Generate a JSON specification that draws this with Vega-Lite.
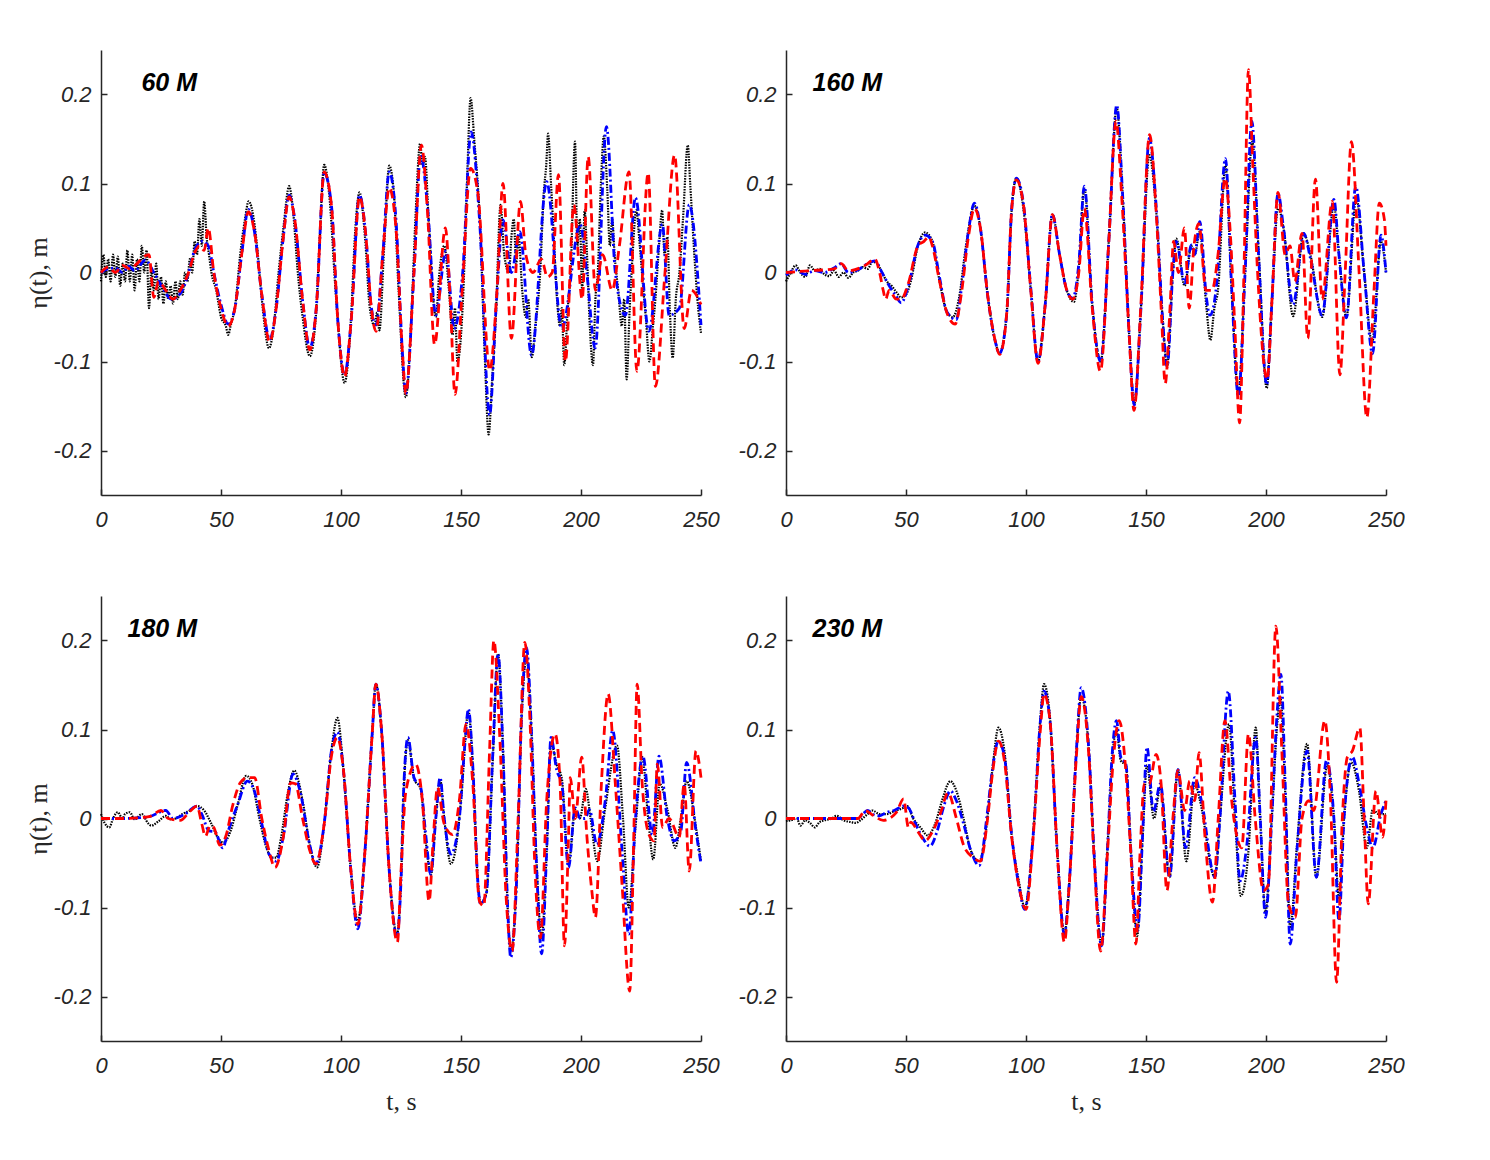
{
  "$schema": "https://vega.github.io/schema/vega-lite/v6.json",
  "background": "#ffffff",
  "padding": {"left": 25, "top": 50, "right": 0, "bottom": 0},
  "datasets": {
    "k1": [{"t":0,"v":-0.01},{"t":1,"v":0.02},{"t":2,"v":-0.005},{"t":3,"v":0.015},{"t":4,"v":-0.01},{"t":5,"v":0.02},{"t":6,"v":-0.005},{"t":7,"v":0.018},{"t":8,"v":-0.015},{"t":9,"v":0.01},{"t":10,"v":-0.01},{"t":11,"v":0.025},{"t":12,"v":-0.01},{"t":13,"v":0.02},{"t":14,"v":-0.02},{"t":15,"v":0.015},{"t":16,"v":-0.01},{"t":17,"v":0.03},{"t":18,"v":0},{"t":19,"v":0.025},{"t":20,"v":-0.04},{"t":21,"v":0.005},{"t":22,"v":-0.02},{"t":23,"v":0.01},{"t":24,"v":-0.03},{"t":25,"v":-0.005},{"t":26,"v":-0.035},{"t":27,"v":-0.01},{"t":28,"v":-0.03},{"t":29,"v":-0.015},{"t":30,"v":-0.035},{"t":31,"v":-0.01},{"t":32,"v":-0.03},{"t":33,"v":-0.01},{"t":34,"v":-0.025},{"t":35,"v":0},{"t":36,"v":-0.01},{"t":37,"v":0.015},{"t":38,"v":0},{"t":39,"v":0.035},{"t":40,"v":0.02},{"t":41,"v":0.06},{"t":42,"v":0.03},{"t":43,"v":0.08},{"t":44,"v":0.04},{"t":45,"v":0.02},{"t":46,"v":0},{"t":48,"v":-0.02},{"t":50,"v":-0.05},{"t":52,"v":-0.06},{"t":53,"v":-0.07},{"t":54,"v":-0.06},{"t":56,"v":-0.035},{"t":58,"v":0.02},{"t":60,"v":0.06},{"t":61.5,"v":0.08},{"t":63,"v":0.07},{"t":65,"v":0.03},{"t":67,"v":-0.03},{"t":70,"v":-0.085},{"t":72,"v":-0.06},{"t":74,"v":0},{"t":76,"v":0.05},{"t":78.4,"v":0.097},{"t":80,"v":0.07},{"t":82,"v":0},{"t":84,"v":-0.05},{"t":87,"v":-0.094},{"t":89.5,"v":-0.05},{"t":91,"v":0.03},{"t":93,"v":0.121},{"t":95,"v":0.09},{"t":98,"v":-0.03},{"t":101.5,"v":-0.124},{"t":104,"v":-0.06},{"t":106,"v":0.05},{"t":107.7,"v":0.09},{"t":110,"v":0.04},{"t":112,"v":-0.04},{"t":114,"v":-0.06},{"t":115,"v":-0.045},{"t":116,"v":-0.065},{"t":118,"v":0.03},{"t":120.1,"v":0.12},{"t":122,"v":0.09},{"t":124,"v":-0.02},{"t":127,"v":-0.14},{"t":129.5,"v":-0.04},{"t":131,"v":0.06},{"t":133,"v":0.145},{"t":134,"v":0.12},{"t":135,"v":0.13},{"t":136.5,"v":0.06},{"t":139.5,"v":-0.05},{"t":141,"v":0},{"t":143,"v":0.03},{"t":145,"v":-0.02},{"t":146.5,"v":-0.07},{"t":147.5,"v":-0.04},{"t":148.5,"v":-0.1},{"t":151,"v":-0.02},{"t":152.5,"v":0.1},{"t":154,"v":0.196},{"t":155.5,"v":0.15},{"t":158,"v":0.05},{"t":160,"v":-0.1},{"t":161.5,"v":-0.182},{"t":163,"v":-0.12},{"t":164.5,"v":-0.05},{"t":166.5,"v":0.076},{"t":168,"v":0.02},{"t":170,"v":0},{"t":171,"v":0.04},{"t":172,"v":0.06},{"t":173,"v":0.01},{"t":174,"v":0.04},{"t":175.5,"v":-0.02},{"t":177,"v":-0.05},{"t":178,"v":-0.03},{"t":179.5,"v":-0.095},{"t":181,"v":-0.06},{"t":183,"v":0},{"t":184.5,"v":0.09},{"t":185.5,"v":0.12},{"t":186.3,"v":0.156},{"t":187.5,"v":0.1},{"t":188.5,"v":0.05},{"t":190,"v":-0.03},{"t":191.2,"v":-0.06},{"t":192,"v":-0.04},{"t":193,"v":-0.104},{"t":194.5,"v":-0.04},{"t":195.7,"v":0},{"t":197.5,"v":0.147},{"t":198.5,"v":0.03},{"t":199.5,"v":0.06},{"t":200.5,"v":-0.02},{"t":201.5,"v":0.07},{"t":202.5,"v":0.02},{"t":203.5,"v":-0.05},{"t":205,"v":-0.104},{"t":206,"v":-0.03},{"t":207,"v":0},{"t":208.3,"v":0.1},{"t":209.5,"v":0.153},{"t":211,"v":0.09},{"t":212,"v":0.03},{"t":213,"v":0.06},{"t":214,"v":0.02},{"t":215.5,"v":-0.02},{"t":217,"v":-0.06},{"t":218,"v":-0.03},{"t":219,"v":-0.12},{"t":220.3,"v":-0.04},{"t":221.5,"v":0.02},{"t":223,"v":0.07},{"t":224.5,"v":0.03},{"t":226,"v":-0.02},{"t":227,"v":-0.05},{"t":228.5,"v":-0.1},{"t":230,"v":-0.06},{"t":231,"v":-0.03},{"t":232.5,"v":0.03},{"t":233.8,"v":0.07},{"t":234.8,"v":0.02},{"t":236,"v":0.04},{"t":237,"v":-0.04},{"t":238.2,"v":-0.096},{"t":239.5,"v":-0.03},{"t":241,"v":0},{"t":242.5,"v":0.06},{"t":244.5,"v":0.143},{"t":245.5,"v":0.1},{"t":247,"v":0.03},{"t":248.5,"v":-0.03},{"t":250,"v":-0.068}],
    "b1": [{"t":0,"v":0},{"t":3,"v":0.004},{"t":6,"v":0.005},{"t":9,"v":0},{"t":11.5,"v":0.007},{"t":14,"v":0.002},{"t":18.5,"v":0.014},{"t":22,"v":0},{"t":25,"v":-0.014},{"t":29.5,"v":-0.03},{"t":33.7,"v":-0.021},{"t":36.5,"v":0},{"t":39,"v":0.025},{"t":42,"v":0.035},{"t":44.7,"v":0.03},{"t":47,"v":0},{"t":50,"v":-0.036},{"t":53,"v":-0.058},{"t":55.8,"v":-0.04},{"t":58.6,"v":0.02},{"t":61.4,"v":0.071},{"t":64,"v":0.045},{"t":67,"v":-0.025},{"t":70.3,"v":-0.075},{"t":73,"v":-0.04},{"t":75.9,"v":0.038},{"t":78.4,"v":0.087},{"t":80.7,"v":0.06},{"t":84.2,"v":-0.036},{"t":87,"v":-0.085},{"t":89.7,"v":-0.04},{"t":93,"v":0.112},{"t":96,"v":0.076},{"t":98.7,"v":-0.055},{"t":101.5,"v":-0.115},{"t":104.2,"v":-0.055},{"t":107.7,"v":0.087},{"t":110.4,"v":0.04},{"t":112.5,"v":-0.036},{"t":114.6,"v":-0.059},{"t":117.4,"v":0.02},{"t":120.1,"v":0.113},{"t":122.9,"v":0.06},{"t":125.6,"v":-0.09},{"t":127,"v":-0.136},{"t":130.4,"v":0},{"t":133.2,"v":0.132},{"t":136,"v":0.076},{"t":139.5,"v":-0.048},{"t":143.7,"v":0.024},{"t":147.2,"v":-0.063},{"t":150.7,"v":0},{"t":154.2,"v":0.158},{"t":157.7,"v":0.06},{"t":161.9,"v":-0.16},{"t":164.7,"v":-0.036},{"t":167.5,"v":0.059},{"t":171,"v":0},{"t":174.5,"v":0.046},{"t":179.4,"v":-0.093},{"t":185.7,"v":0.102},{"t":192,"v":-0.063},{"t":199.7,"v":0.054},{"t":202.4,"v":0},{"t":205.9,"v":-0.085},{"t":210.6,"v":0.164},{"t":214.3,"v":0},{"t":218.5,"v":-0.048},{"t":222.7,"v":0.084},{"t":228.3,"v":-0.066},{"t":233.9,"v":0.054},{"t":236.7,"v":-0.048},{"t":241,"v":-0.04},{"t":245.1,"v":0.076},{"t":250,"v":-0.059}],
    "r1": [{"t":0,"v":0},{"t":3,"v":0.006},{"t":6,"v":0},{"t":9,"v":0.008},{"t":12,"v":0.004},{"t":15,"v":0.01},{"t":18,"v":0.018},{"t":20,"v":0.02},{"t":22,"v":-0.028},{"t":24,"v":-0.01},{"t":27,"v":-0.02},{"t":30,"v":-0.03},{"t":33,"v":-0.02},{"t":36.5,"v":0},{"t":39,"v":0.022},{"t":41,"v":0.03},{"t":43,"v":0.025},{"t":44.7,"v":0.05},{"t":47,"v":0},{"t":50,"v":-0.04},{"t":53,"v":-0.06},{"t":55.8,"v":-0.04},{"t":58.6,"v":0.02},{"t":61.4,"v":0.068},{"t":64,"v":0.045},{"t":67,"v":-0.025},{"t":70.3,"v":-0.078},{"t":73,"v":-0.04},{"t":75.9,"v":0.038},{"t":78.4,"v":0.085},{"t":80.7,"v":0.06},{"t":84.2,"v":-0.036},{"t":87,"v":-0.087},{"t":89.7,"v":-0.04},{"t":93,"v":0.113},{"t":96,"v":0.076},{"t":98.7,"v":-0.055},{"t":101.5,"v":-0.117},{"t":104.2,"v":-0.055},{"t":107.7,"v":0.085},{"t":110.4,"v":0.04},{"t":112.5,"v":-0.036},{"t":114.6,"v":-0.066},{"t":117.4,"v":0.02},{"t":120.1,"v":0.095},{"t":122.9,"v":0.05},{"t":125.6,"v":-0.09},{"t":127,"v":-0.136},{"t":130.4,"v":0},{"t":133.5,"v":0.143},{"t":136,"v":0.07},{"t":139,"v":-0.081},{"t":143.5,"v":0.05},{"t":145.5,"v":-0.03},{"t":147.5,"v":-0.137},{"t":150.5,"v":-0.02},{"t":154,"v":0.117},{"t":157,"v":0.09},{"t":162,"v":-0.11},{"t":165,"v":-0.02},{"t":167.5,"v":0.1},{"t":171,"v":-0.074},{"t":174.8,"v":0.08},{"t":177,"v":0.02},{"t":180,"v":0},{"t":183.5,"v":0.015},{"t":186,"v":-0.005},{"t":188,"v":0},{"t":190.6,"v":0.11},{"t":193.5,"v":-0.1},{"t":197,"v":0.076},{"t":200.5,"v":-0.03},{"t":203,"v":0.13},{"t":206,"v":-0.02},{"t":209,"v":0.02},{"t":213,"v":-0.02},{"t":216,"v":0.03},{"t":220,"v":0.113},{"t":223.3,"v":-0.111},{"t":228,"v":0.112},{"t":231,"v":-0.128},{"t":235,"v":0},{"t":239,"v":0.132},{"t":243,"v":-0.063},{"t":246,"v":-0.02},{"t":250,"v":-0.036}],
    "k2": [{"t":0,"v":-0.01},{"t":2,"v":0},{"t":4,"v":0.008},{"t":6,"v":0},{"t":8,"v":-0.005},{"t":10,"v":0.008},{"t":12,"v":0.002},{"t":14,"v":0.004},{"t":16,"v":-0.002},{"t":18,"v":-0.004},{"t":20,"v":0.002},{"t":22,"v":-0.005},{"t":24,"v":0},{"t":26,"v":-0.006},{"t":28,"v":0},{"t":30,"v":0.002},{"t":32,"v":0.006},{"t":34,"v":0.004},{"t":36,"v":0.012},{"t":38,"v":0.01},{"t":40,"v":0},{"t":42,"v":-0.01},{"t":44,"v":-0.015},{"t":46,"v":-0.022},{"t":48,"v":-0.028},{"t":50,"v":-0.025},{"t":52,"v":-0.01},{"t":55,"v":0.03},{"t":58,"v":0.045},{"t":61,"v":0.035},{"t":64,"v":-0.01},{"t":67,"v":-0.044},{"t":69.5,"v":-0.05},{"t":72,"v":-0.03},{"t":75,"v":0.03},{"t":78.5,"v":0.075},{"t":81,"v":0.05},{"t":84,"v":-0.025},{"t":87,"v":-0.075},{"t":89,"v":-0.09},{"t":92,"v":-0.045},{"t":94,"v":0.07},{"t":96,"v":0.106},{"t":99,"v":0.07},{"t":102,"v":-0.02},{"t":105,"v":-0.1},{"t":108,"v":-0.036},{"t":111,"v":0.065},{"t":114,"v":0.02},{"t":117,"v":-0.02},{"t":120,"v":-0.033},{"t":122,"v":0.005},{"t":124.3,"v":0.095},{"t":127.6,"v":-0.036},{"t":131.1,"v":-0.1},{"t":134.6,"v":0.04},{"t":137.8,"v":0.185},{"t":140.2,"v":0.09},{"t":143,"v":-0.07},{"t":145.1,"v":-0.148},{"t":147.9,"v":-0.04},{"t":151.4,"v":0.132},{"t":154.2,"v":0.07},{"t":157,"v":-0.055},{"t":158.8,"v":-0.105},{"t":161.2,"v":0},{"t":162.6,"v":0.038},{"t":166.1,"v":-0.015},{"t":168.9,"v":0.03},{"t":170.3,"v":0.02},{"t":172.4,"v":0.046},{"t":175.2,"v":-0.04},{"t":176.8,"v":-0.076},{"t":178.5,"v":-0.04},{"t":180,"v":-0.02},{"t":183.1,"v":0.12},{"t":185.7,"v":-0.02},{"t":188.5,"v":-0.135},{"t":191.3,"v":0},{"t":194.3,"v":0.147},{"t":197,"v":0.02},{"t":200.3,"v":-0.13},{"t":202.4,"v":-0.036},{"t":205,"v":0.072},{"t":207.3,"v":0.05},{"t":211.3,"v":-0.049},{"t":215.7,"v":0.044},{"t":218.5,"v":0.02},{"t":223.4,"v":-0.05},{"t":228.3,"v":0.075},{"t":230.4,"v":0.02},{"t":233.5,"v":-0.05},{"t":237.6,"v":0.084},{"t":240.9,"v":0},{"t":244.2,"v":-0.079},{"t":247.9,"v":0.035},{"t":250,"v":0}],
    "b2": [{"t":0,"v":-0.003},{"t":4,"v":0.003},{"t":8,"v":-0.002},{"t":12,"v":0.002},{"t":16,"v":0},{"t":20,"v":0.005},{"t":23,"v":0.01},{"t":26,"v":0},{"t":30,"v":0.003},{"t":34,"v":0.01},{"t":37,"v":0.013},{"t":40,"v":0},{"t":43,"v":-0.015},{"t":45.5,"v":-0.025},{"t":48,"v":-0.034},{"t":51,"v":-0.015},{"t":55,"v":0.031},{"t":58,"v":0.042},{"t":61,"v":0.035},{"t":64,"v":-0.006},{"t":67,"v":-0.044},{"t":71,"v":-0.053},{"t":73,"v":-0.02},{"t":76,"v":0.046},{"t":78.5,"v":0.078},{"t":81,"v":0.05},{"t":84,"v":-0.025},{"t":87,"v":-0.075},{"t":89,"v":-0.091},{"t":92,"v":-0.045},{"t":94,"v":0.07},{"t":96,"v":0.106},{"t":99,"v":0.076},{"t":102,"v":-0.018},{"t":105,"v":-0.1},{"t":108,"v":-0.036},{"t":111,"v":0.065},{"t":114,"v":0.02},{"t":117,"v":-0.02},{"t":119.5,"v":-0.029},{"t":122,"v":0.01},{"t":124.3,"v":0.097},{"t":127.6,"v":-0.036},{"t":131.1,"v":-0.1},{"t":134.6,"v":0.04},{"t":137.8,"v":0.188},{"t":140.2,"v":0.09},{"t":143,"v":-0.07},{"t":145.1,"v":-0.149},{"t":147.9,"v":-0.04},{"t":151.4,"v":0.151},{"t":154.2,"v":0.076},{"t":157,"v":-0.055},{"t":158.8,"v":-0.106},{"t":161.2,"v":0},{"t":162.6,"v":0.035},{"t":166.1,"v":-0.012},{"t":168.9,"v":0.031},{"t":170.3,"v":0.02},{"t":172.4,"v":0.057},{"t":175.2,"v":-0.029},{"t":176.6,"v":-0.048},{"t":178,"v":-0.04},{"t":179.4,"v":-0.014},{"t":183.1,"v":0.128},{"t":185.7,"v":-0.018},{"t":188.5,"v":-0.139},{"t":191.3,"v":0},{"t":194.1,"v":0.17},{"t":196.9,"v":0.02},{"t":200.3,"v":-0.126},{"t":202.4,"v":-0.036},{"t":205,"v":0.089},{"t":207.3,"v":0.05},{"t":211.3,"v":-0.036},{"t":215.7,"v":0.044},{"t":218.5,"v":0.016},{"t":223.4,"v":-0.048},{"t":228.3,"v":0.082},{"t":230.4,"v":0.02},{"t":233.5,"v":-0.051},{"t":237.4,"v":0.097},{"t":240.9,"v":0},{"t":244.4,"v":-0.091},{"t":247.9,"v":0.042},{"t":250,"v":0}],
    "r2": [{"t":0,"v":0},{"t":10,"v":0.002},{"t":20,"v":0.004},{"t":23,"v":0.01},{"t":26,"v":0.002},{"t":33,"v":0.008},{"t":37,"v":0.015},{"t":39,"v":0},{"t":40.5,"v":-0.02},{"t":41.5,"v":-0.03},{"t":43,"v":-0.02},{"t":46,"v":-0.03},{"t":48,"v":-0.03},{"t":51,"v":-0.012},{"t":55,"v":0.03},{"t":57.5,"v":0.035},{"t":59.5,"v":0.04},{"t":61,"v":0.03},{"t":64,"v":-0.01},{"t":67,"v":-0.045},{"t":70.5,"v":-0.058},{"t":73,"v":-0.025},{"t":76,"v":0.04},{"t":78.5,"v":0.072},{"t":81,"v":0.05},{"t":84,"v":-0.025},{"t":87,"v":-0.075},{"t":89,"v":-0.092},{"t":92,"v":-0.045},{"t":94,"v":0.07},{"t":96,"v":0.104},{"t":99,"v":0.075},{"t":102,"v":-0.02},{"t":105,"v":-0.102},{"t":108,"v":-0.036},{"t":111,"v":0.065},{"t":114,"v":0.02},{"t":117,"v":-0.02},{"t":119.5,"v":-0.03},{"t":122,"v":0},{"t":124.3,"v":0.072},{"t":127.6,"v":-0.04},{"t":131,"v":-0.111},{"t":134.4,"v":0.03},{"t":137.5,"v":0.17},{"t":140,"v":0.08},{"t":143,"v":-0.07},{"t":145,"v":-0.155},{"t":147.8,"v":-0.04},{"t":151.5,"v":0.155},{"t":154.2,"v":0.07},{"t":156.5,"v":-0.05},{"t":158,"v":-0.125},{"t":160,"v":-0.04},{"t":161.5,"v":0.035},{"t":163.5,"v":0},{"t":166,"v":0.05},{"t":168,"v":-0.04},{"t":170,"v":0.03},{"t":172,"v":0.055},{"t":175,"v":-0.02},{"t":177.5,"v":-0.02},{"t":180,"v":0.02},{"t":183,"v":0.106},{"t":185,"v":0.05},{"t":187,"v":-0.06},{"t":189,"v":-0.169},{"t":190.8,"v":0},{"t":192.7,"v":0.228},{"t":194.5,"v":0.12},{"t":196.5,"v":0},{"t":200.5,"v":-0.12},{"t":202.5,"v":-0.03},{"t":205,"v":0.09},{"t":208,"v":0.02},{"t":210,"v":0.03},{"t":212,"v":-0.01},{"t":215,"v":0.044},{"t":217.4,"v":-0.074},{"t":220.6,"v":0.105},{"t":223.4,"v":-0.03},{"t":227.6,"v":0.08},{"t":230.8,"v":-0.115},{"t":233,"v":0},{"t":235.6,"v":0.147},{"t":238.8,"v":0},{"t":242,"v":-0.163},{"t":245,"v":-0.02},{"t":247.2,"v":0.078},{"t":249.3,"v":0.06},{"t":250,"v":0.03}],
    "k3": [{"t":0,"v":0.005},{"t":1.5,"v":-0.005},{"t":3.5,"v":-0.01},{"t":5,"v":0},{"t":7,"v":0.007},{"t":9,"v":0},{"t":10,"v":0.005},{"t":12,"v":0.007},{"t":14,"v":-0.001},{"t":17,"v":0.005},{"t":19.5,"v":-0.005},{"t":21,"v":-0.008},{"t":24,"v":-0.003},{"t":27,"v":0.003},{"t":29,"v":-0.001},{"t":31,"v":0},{"t":34,"v":0.005},{"t":37,"v":0.009},{"t":40,"v":0.014},{"t":43,"v":0.009},{"t":46,"v":-0.006},{"t":49,"v":-0.023},{"t":51,"v":-0.027},{"t":54,"v":-0.014},{"t":57,"v":0.016},{"t":60.5,"v":0.048},{"t":63,"v":0.039},{"t":66,"v":0},{"t":69,"v":-0.033},{"t":71,"v":-0.044},{"t":73,"v":-0.044},{"t":75,"v":-0.022},{"t":78,"v":0.031},{"t":80.5,"v":0.054},{"t":84,"v":0.02},{"t":87,"v":-0.03},{"t":90,"v":-0.055},{"t":93,"v":-0.006},{"t":96,"v":0.076},{"t":98.5,"v":0.113},{"t":101,"v":0.055},{"t":104,"v":-0.055},{"t":107,"v":-0.115},{"t":110,"v":-0.036},{"t":113,"v":0.095},{"t":114.5,"v":0.151},{"t":117,"v":0.095},{"t":120,"v":-0.055},{"t":123.3,"v":-0.13},{"t":125,"v":-0.07},{"t":126.2,"v":0.035},{"t":127.9,"v":0.088},{"t":130.4,"v":0.045},{"t":133.2,"v":0.033},{"t":135.5,"v":-0.03},{"t":137.5,"v":-0.063},{"t":139.5,"v":0},{"t":141.3,"v":0.044},{"t":143,"v":0},{"t":145.8,"v":-0.051},{"t":148,"v":-0.03},{"t":150,"v":0.02},{"t":153.1,"v":0.12},{"t":154.9,"v":0.06},{"t":157,"v":-0.07},{"t":158.1,"v":-0.095},{"t":160.5,"v":-0.085},{"t":163.3,"v":0.07},{"t":165.4,"v":0.185},{"t":167.5,"v":0.076},{"t":169.6,"v":-0.11},{"t":170.7,"v":-0.15},{"t":173.1,"v":-0.074},{"t":175.2,"v":0.11},{"t":177.3,"v":0.18},{"t":179.4,"v":0.095},{"t":181.5,"v":-0.05},{"t":183.6,"v":-0.134},{"t":185.7,"v":-0.036},{"t":187.5,"v":0.085},{"t":189.9,"v":0.06},{"t":192,"v":0.045},{"t":194.8,"v":-0.052},{"t":197.6,"v":0.01},{"t":199.5,"v":0},{"t":202,"v":0.033},{"t":204,"v":0},{"t":206.8,"v":-0.048},{"t":210,"v":0.01},{"t":215,"v":0.082},{"t":217.5,"v":0},{"t":219.9,"v":-0.1},{"t":222.7,"v":-0.01},{"t":225.5,"v":0.069},{"t":228,"v":0},{"t":230.1,"v":-0.046},{"t":232.8,"v":0.039},{"t":236,"v":0.01},{"t":239.3,"v":-0.033},{"t":241.6,"v":0},{"t":244,"v":0.042},{"t":247.9,"v":-0.01},{"t":250,"v":-0.048}],
    "b3": [{"t":0,"v":0},{"t":10,"v":0},{"t":20,"v":0.002},{"t":27,"v":0.009},{"t":30,"v":0},{"t":35,"v":0.005},{"t":40,"v":0.014},{"t":42,"v":0.005},{"t":45,"v":-0.014},{"t":47.5,"v":-0.015},{"t":50.7,"v":-0.033},{"t":53,"v":-0.014},{"t":57,"v":0.016},{"t":61,"v":0.042},{"t":64,"v":0.03},{"t":67,"v":-0.006},{"t":70,"v":-0.04},{"t":73,"v":-0.048},{"t":76,"v":-0.02},{"t":80,"v":0.05},{"t":83,"v":0.03},{"t":87,"v":-0.03},{"t":89.5,"v":-0.051},{"t":93,"v":-0.006},{"t":96,"v":0.076},{"t":98.5,"v":0.097},{"t":101,"v":0.055},{"t":104,"v":-0.055},{"t":107,"v":-0.124},{"t":110,"v":-0.036},{"t":113,"v":0.095},{"t":114.5,"v":0.151},{"t":117,"v":0.095},{"t":120,"v":-0.055},{"t":123.3,"v":-0.132},{"t":125,"v":-0.07},{"t":126.2,"v":0.038},{"t":127.9,"v":0.091},{"t":130.4,"v":0.046},{"t":133.2,"v":0.035},{"t":135.3,"v":-0.018},{"t":137.4,"v":-0.063},{"t":139.5,"v":0},{"t":141.3,"v":0.046},{"t":143,"v":0},{"t":145.8,"v":-0.04},{"t":149.3,"v":0},{"t":151.4,"v":0.076},{"t":153.1,"v":0.123},{"t":154.9,"v":0.06},{"t":157,"v":-0.07},{"t":158.1,"v":-0.096},{"t":160.5,"v":-0.085},{"t":163.3,"v":0.076},{"t":165.4,"v":0.185},{"t":167.5,"v":0.076},{"t":169.6,"v":-0.11},{"t":170.7,"v":-0.156},{"t":173.1,"v":-0.074},{"t":175.2,"v":0.113},{"t":177.3,"v":0.192},{"t":179.4,"v":0.095},{"t":181.5,"v":-0.055},{"t":183.6,"v":-0.152},{"t":185.7,"v":-0.036},{"t":187.5,"v":0.091},{"t":189.9,"v":0.054},{"t":192,"v":0.039},{"t":194.8,"v":-0.055},{"t":197.6,"v":0.012},{"t":199.7,"v":0},{"t":201.7,"v":0},{"t":203.5,"v":0.01},{"t":206.6,"v":-0.029},{"t":210.1,"v":0.02},{"t":213.2,"v":0.099},{"t":217.1,"v":-0.036},{"t":219.9,"v":-0.13},{"t":222.7,"v":0},{"t":225.8,"v":0.07},{"t":229.7,"v":-0.018},{"t":232.5,"v":0.07},{"t":236,"v":0},{"t":238.8,"v":-0.025},{"t":241.6,"v":-0.014},{"t":244,"v":0.063},{"t":247.9,"v":-0.014},{"t":250,"v":-0.051}],
    "r3": [{"t":0,"v":0},{"t":10,"v":0},{"t":20,"v":0.002},{"t":25,"v":0.009},{"t":28,"v":0},{"t":33,"v":-0.002},{"t":37,"v":0.008},{"t":40,"v":0.014},{"t":42,"v":-0.006},{"t":43.5,"v":-0.02},{"t":45.5,"v":-0.008},{"t":47,"v":-0.01},{"t":49.5,"v":-0.03},{"t":52,"v":-0.02},{"t":55,"v":0.016},{"t":58,"v":0.04},{"t":61,"v":0.046},{"t":64,"v":0.046},{"t":67,"v":0},{"t":70,"v":-0.036},{"t":72.5,"v":-0.055},{"t":76,"v":-0.02},{"t":79,"v":0.04},{"t":81,"v":0.039},{"t":84,"v":0},{"t":87,"v":-0.036},{"t":89.5,"v":-0.051},{"t":93,"v":-0.006},{"t":96,"v":0.07},{"t":98.5,"v":0.091},{"t":101,"v":0.055},{"t":104,"v":-0.055},{"t":107,"v":-0.119},{"t":110,"v":-0.036},{"t":113,"v":0.095},{"t":114.5,"v":0.151},{"t":117,"v":0.095},{"t":120,"v":-0.055},{"t":123.5,"v":-0.139},{"t":125,"v":-0.06},{"t":127,"v":0.03},{"t":131.1,"v":0.061},{"t":133.9,"v":0.02},{"t":136.7,"v":-0.093},{"t":138.5,"v":-0.02},{"t":140.2,"v":0.035},{"t":143,"v":-0.006},{"t":146.5,"v":-0.018},{"t":149.3,"v":0.02},{"t":152.1,"v":0.106},{"t":154.9,"v":0.04},{"t":157.7,"v":-0.093},{"t":159.5,"v":-0.098},{"t":161.9,"v":0.076},{"t":163.7,"v":0.2},{"t":166.1,"v":0.095},{"t":168.9,"v":-0.093},{"t":171.3,"v":-0.149},{"t":173.8,"v":0},{"t":176.6,"v":0.198},{"t":178.7,"v":0.113},{"t":180.8,"v":-0.055},{"t":183.1,"v":-0.134},{"t":185.7,"v":0.02},{"t":189.2,"v":0.095},{"t":191.3,"v":0.039},{"t":193.1,"v":-0.143},{"t":194.8,"v":-0.02},{"t":195.5,"v":0.046},{"t":197.6,"v":0},{"t":200.3,"v":0.069},{"t":202.4,"v":-0.018},{"t":204.5,"v":-0.081},{"t":206,"v":-0.111},{"t":208.5,"v":0.039},{"t":211.3,"v":0.14},{"t":214.3,"v":0.039},{"t":217.1,"v":-0.074},{"t":220.3,"v":-0.194},{"t":222,"v":-0.018},{"t":223.4,"v":0.151},{"t":225.5,"v":0.039},{"t":228.3,"v":-0.018},{"t":230.4,"v":-0.025},{"t":231.8,"v":0.061},{"t":234,"v":-0.01},{"t":236.7,"v":0},{"t":240.9,"v":-0.021},{"t":243,"v":0.039},{"t":245.1,"v":-0.059},{"t":247.9,"v":0.076},{"t":250,"v":0.046}],
    "k4": [{"t":0,"v":-0.003},{"t":2,"v":-0.002},{"t":4.5,"v":0},{"t":6,"v":-0.008},{"t":8,"v":-0.002},{"t":10,"v":-0.005},{"t":12,"v":-0.01},{"t":14,"v":-0.004},{"t":16,"v":-0.002},{"t":19,"v":0},{"t":21,"v":0.003},{"t":24,"v":-0.002},{"t":27,"v":-0.004},{"t":29,"v":-0.005},{"t":31,"v":-0.002},{"t":34,"v":0.005},{"t":36,"v":0.009},{"t":39,"v":0.005},{"t":42,"v":0.005},{"t":45,"v":0.008},{"t":49,"v":0.012},{"t":50.5,"v":0.014},{"t":53,"v":0},{"t":56,"v":-0.01},{"t":59,"v":-0.019},{"t":62,"v":-0.007},{"t":65,"v":0.02},{"t":67.5,"v":0.039},{"t":68.5,"v":0.042},{"t":71,"v":0.031},{"t":74,"v":0},{"t":77,"v":-0.036},{"t":80.5,"v":-0.048},{"t":83,"v":-0.02},{"t":86,"v":0.055},{"t":88.5,"v":0.102},{"t":91,"v":0.076},{"t":94,"v":-0.018},{"t":97,"v":-0.07},{"t":99.5,"v":-0.1},{"t":103,"v":-0.018},{"t":106,"v":0.113},{"t":107.5,"v":0.151},{"t":110,"v":0.113},{"t":113,"v":-0.036},{"t":116,"v":-0.13},{"t":118,"v":-0.074},{"t":121,"v":0.076},{"t":123,"v":0.137},{"t":126.2,"v":0.076},{"t":128.3,"v":-0.036},{"t":131.5,"v":-0.143},{"t":133.9,"v":-0.036},{"t":136,"v":0.07},{"t":137.7,"v":0.099},{"t":139.5,"v":0.065},{"t":141.6,"v":0.06},{"t":143.7,"v":-0.036},{"t":146.3,"v":-0.132},{"t":148.6,"v":-0.02},{"t":150.4,"v":0.06},{"t":153.3,"v":0},{"t":156,"v":0.035},{"t":159.8,"v":-0.066},{"t":163.3,"v":0.055},{"t":166.8,"v":-0.048},{"t":170.3,"v":0.04},{"t":172.5,"v":0.02},{"t":178.7,"v":-0.066},{"t":180.8,"v":0},{"t":184.6,"v":0.106},{"t":187.1,"v":0},{"t":189.5,"v":-0.087},{"t":192.6,"v":-0.04},{"t":195.7,"v":0.102},{"t":197.6,"v":0},{"t":199.8,"v":-0.105},{"t":202.4,"v":0},{"t":204.5,"v":0.1},{"t":206,"v":0.136},{"t":208,"v":0.03},{"t":210.1,"v":-0.123},{"t":212.9,"v":-0.03},{"t":217.1,"v":0.084},{"t":221,"v":-0.066},{"t":225.5,"v":0.06},{"t":228.3,"v":0},{"t":230.4,"v":-0.089},{"t":232.5,"v":0},{"t":235.5,"v":0.063},{"t":238.8,"v":0.03},{"t":242,"v":-0.033},{"t":244.5,"v":0.01},{"t":247,"v":0.005},{"t":250,"v":0.005}],
    "b4": [{"t":0,"v":0},{"t":30,"v":0},{"t":32,"v":0.005},{"t":34,"v":0.009},{"t":36,"v":0.005},{"t":39,"v":0.003},{"t":42,"v":0.007},{"t":45,"v":0.009},{"t":49,"v":0.014},{"t":51,"v":0.012},{"t":54,"v":-0.006},{"t":57,"v":-0.022},{"t":60,"v":-0.031},{"t":63,"v":-0.014},{"t":66,"v":0.016},{"t":68.5,"v":0.031},{"t":71,"v":0.02},{"t":74,"v":-0.006},{"t":77,"v":-0.036},{"t":80.5,"v":-0.053},{"t":84,"v":0.009},{"t":86,"v":0.055},{"t":88.5,"v":0.087},{"t":91,"v":0.07},{"t":94,"v":-0.018},{"t":97,"v":-0.075},{"t":99.5,"v":-0.102},{"t":103,"v":-0.018},{"t":106,"v":0.11},{"t":107.5,"v":0.143},{"t":110,"v":0.11},{"t":113,"v":-0.036},{"t":116,"v":-0.13},{"t":118,"v":-0.074},{"t":121,"v":0.076},{"t":123,"v":0.147},{"t":126.2,"v":0.076},{"t":128.3,"v":-0.036},{"t":131.5,"v":-0.143},{"t":133.9,"v":-0.036},{"t":136,"v":0.076},{"t":137.7,"v":0.11},{"t":139.5,"v":0.069},{"t":141.6,"v":0.061},{"t":143.7,"v":-0.036},{"t":146.5,"v":-0.126},{"t":148.6,"v":-0.018},{"t":150.4,"v":0.08},{"t":153.1,"v":0.008},{"t":156,"v":0.039},{"t":159.8,"v":-0.066},{"t":163.3,"v":0.055},{"t":166.5,"v":-0.033},{"t":170.3,"v":0.046},{"t":173.1,"v":0.02},{"t":178.7,"v":-0.066},{"t":180.8,"v":0},{"t":184.3,"v":0.143},{"t":187.1,"v":0.02},{"t":189.2,"v":-0.07},{"t":192,"v":-0.03},{"t":195.7,"v":0.091},{"t":197.6,"v":0},{"t":199.8,"v":-0.111},{"t":202.4,"v":0},{"t":204.5,"v":0.113},{"t":206.2,"v":0.162},{"t":208,"v":0.039},{"t":210.1,"v":-0.141},{"t":212.9,"v":-0.036},{"t":217.1,"v":0.076},{"t":221,"v":-0.066},{"t":225.2,"v":0.065},{"t":228.3,"v":0},{"t":230.4,"v":-0.115},{"t":232.5,"v":0},{"t":236,"v":0.069},{"t":238.8,"v":0.039},{"t":242,"v":-0.01},{"t":244.5,"v":-0.033},{"t":247.9,"v":0.005},{"t":250,"v":0.02}],
    "r4": [{"t":0,"v":0},{"t":30,"v":0},{"t":33,"v":0.009},{"t":36,"v":0.004},{"t":40.5,"v":-0.002},{"t":46,"v":0.007},{"t":49,"v":0.022},{"t":51,"v":-0.01},{"t":52,"v":-0.004},{"t":55,"v":-0.015},{"t":58,"v":-0.025},{"t":61,"v":-0.015},{"t":64.5,"v":0.007},{"t":67.5,"v":0.029},{"t":71,"v":0},{"t":74,"v":-0.03},{"t":78,"v":-0.044},{"t":81,"v":-0.048},{"t":84,"v":0},{"t":86,"v":0.05},{"t":88.5,"v":0.087},{"t":91,"v":0.065},{"t":94,"v":-0.02},{"t":97,"v":-0.075},{"t":100,"v":-0.102},{"t":103,"v":-0.02},{"t":106,"v":0.1},{"t":107.5,"v":0.14},{"t":110,"v":0.11},{"t":113,"v":-0.036},{"t":116,"v":-0.139},{"t":118,"v":-0.074},{"t":121,"v":0.07},{"t":123,"v":0.137},{"t":126.2,"v":0.07},{"t":128.3,"v":-0.04},{"t":131.1,"v":-0.149},{"t":133.9,"v":-0.04},{"t":136.5,"v":0.07},{"t":138.8,"v":0.11},{"t":141.6,"v":0.053},{"t":143.7,"v":-0.04},{"t":145.8,"v":-0.141},{"t":147.5,"v":-0.04},{"t":149.3,"v":0.039},{"t":151.4,"v":0.039},{"t":154.2,"v":0.072},{"t":156.3,"v":0.039},{"t":158.7,"v":-0.081},{"t":161.2,"v":0},{"t":163.3,"v":0.054},{"t":166.1,"v":0.009},{"t":168.2,"v":0.042},{"t":170.3,"v":0.02},{"t":172.1,"v":0.074},{"t":174.5,"v":-0.018},{"t":177.7,"v":-0.094},{"t":180.1,"v":0},{"t":182.9,"v":0.11},{"t":185.7,"v":0.02},{"t":189.9,"v":-0.033},{"t":192.7,"v":0.095},{"t":195.5,"v":0},{"t":199,"v":-0.081},{"t":201,"v":-0.074},{"t":204.1,"v":0.216},{"t":206.6,"v":0.076},{"t":209.4,"v":-0.096},{"t":212.2,"v":-0.111},{"t":215,"v":0},{"t":217.8,"v":0.02},{"t":219.9,"v":0.009},{"t":224.5,"v":0.11},{"t":226.9,"v":0.02},{"t":229.4,"v":-0.184},{"t":231.8,"v":0},{"t":233.9,"v":0.069},{"t":236,"v":0.076},{"t":239.1,"v":0.102},{"t":240.9,"v":0},{"t":242.6,"v":-0.096},{"t":245.8,"v":0.031},{"t":248.6,"v":-0.021},{"t":250,"v":0.02}]
  },
  "columns": 2,
  "spacing": {"row": 101, "column": 85},
  "bounds": "flush",
  "concat": [
    {
      "width": 600, "height": 445,
      "layer": [
        {"data": {"name": "k1"}, "mark": {"type": "line", "color": "#000000", "strokeWidth": 2.2, "strokeDash": [1.5, 1.2], "interpolate": "monotone"},
         "encoding": {
           "x": {"field": "t", "type": "quantitative", "scale": {"domain": [0, 250], "nice": false}, "axis": {"values": [0, 50, 100, 150, 200, 250], "title": null}},
           "y": {"field": "v", "type": "quantitative", "scale": {"domain": [-0.25, 0.25], "nice": false}, "axis": {"values": [-0.2, -0.1, 0, 0.1, 0.2], "title": "η(t), m", "labelExpr": "datum.value == 0 ? '0' : (datum.value < 0 ? '-' + format(-datum.value, '.1f') : format(datum.value, '.1f'))"}}}},
        {"data": {"name": "b1"}, "mark": {"type": "line", "color": "#0000ff", "strokeWidth": 2.8, "strokeDash": [8, 3, 2, 3], "interpolate": "monotone"},
         "encoding": {"x": {"field": "t", "type": "quantitative"}, "y": {"field": "v", "type": "quantitative"}}},
        {"data": {"name": "r1"}, "mark": {"type": "line", "color": "#ff0000", "strokeWidth": 2.8, "strokeDash": [9, 5], "interpolate": "monotone"},
         "encoding": {"x": {"field": "t", "type": "quantitative"}, "y": {"field": "v", "type": "quantitative"}}},
        {"data": {"values": [{"label": "60 M"}]}, "mark": {"type": "text", "align": "right", "baseline": "middle", "font": "Liberation Sans", "fontSize": 25, "fontWeight": "bold", "fontStyle": "italic", "fill": "#000000"},
         "encoding": {"x": {"datum": 40, "type": "quantitative"}, "y": {"datum": 0.213, "type": "quantitative"}, "text": {"field": "label", "type": "nominal"}}}
      ]
    },
    {
      "width": 600, "height": 445,
      "layer": [
        {"data": {"name": "k2"}, "mark": {"type": "line", "color": "#000000", "strokeWidth": 2.2, "strokeDash": [1.5, 1.2], "interpolate": "monotone"},
         "encoding": {
           "x": {"field": "t", "type": "quantitative", "scale": {"domain": [0, 250], "nice": false}, "axis": {"values": [0, 50, 100, 150, 200, 250], "title": null}},
           "y": {"field": "v", "type": "quantitative", "scale": {"domain": [-0.25, 0.25], "nice": false}, "axis": {"values": [-0.2, -0.1, 0, 0.1, 0.2], "title": null, "labelExpr": "datum.value == 0 ? '0' : (datum.value < 0 ? '-' + format(-datum.value, '.1f') : format(datum.value, '.1f'))"}}}},
        {"data": {"name": "b2"}, "mark": {"type": "line", "color": "#0000ff", "strokeWidth": 2.8, "strokeDash": [8, 3, 2, 3], "interpolate": "monotone"},
         "encoding": {"x": {"field": "t", "type": "quantitative"}, "y": {"field": "v", "type": "quantitative"}}},
        {"data": {"name": "r2"}, "mark": {"type": "line", "color": "#ff0000", "strokeWidth": 2.8, "strokeDash": [9, 5], "interpolate": "monotone"},
         "encoding": {"x": {"field": "t", "type": "quantitative"}, "y": {"field": "v", "type": "quantitative"}}},
        {"data": {"values": [{"label": "160 M"}]}, "mark": {"type": "text", "align": "right", "baseline": "middle", "font": "Liberation Sans", "fontSize": 25, "fontWeight": "bold", "fontStyle": "italic", "fill": "#000000"},
         "encoding": {"x": {"datum": 40, "type": "quantitative"}, "y": {"datum": 0.213, "type": "quantitative"}, "text": {"field": "label", "type": "nominal"}}}
      ]
    },
    {
      "width": 600, "height": 445,
      "layer": [
        {"data": {"name": "k3"}, "mark": {"type": "line", "color": "#000000", "strokeWidth": 2.2, "strokeDash": [1.5, 1.2], "interpolate": "monotone"},
         "encoding": {
           "x": {"field": "t", "type": "quantitative", "scale": {"domain": [0, 250], "nice": false}, "axis": {"values": [0, 50, 100, 150, 200, 250], "title": "t, s"}},
           "y": {"field": "v", "type": "quantitative", "scale": {"domain": [-0.25, 0.25], "nice": false}, "axis": {"values": [-0.2, -0.1, 0, 0.1, 0.2], "title": "η(t), m", "labelExpr": "datum.value == 0 ? '0' : (datum.value < 0 ? '-' + format(-datum.value, '.1f') : format(datum.value, '.1f'))"}}}},
        {"data": {"name": "b3"}, "mark": {"type": "line", "color": "#0000ff", "strokeWidth": 2.8, "strokeDash": [8, 3, 2, 3], "interpolate": "monotone"},
         "encoding": {"x": {"field": "t", "type": "quantitative"}, "y": {"field": "v", "type": "quantitative"}}},
        {"data": {"name": "r3"}, "mark": {"type": "line", "color": "#ff0000", "strokeWidth": 2.8, "strokeDash": [9, 5], "interpolate": "monotone"},
         "encoding": {"x": {"field": "t", "type": "quantitative"}, "y": {"field": "v", "type": "quantitative"}}},
        {"data": {"values": [{"label": "180 M"}]}, "mark": {"type": "text", "align": "right", "baseline": "middle", "font": "Liberation Sans", "fontSize": 25, "fontWeight": "bold", "fontStyle": "italic", "fill": "#000000"},
         "encoding": {"x": {"datum": 40, "type": "quantitative"}, "y": {"datum": 0.213, "type": "quantitative"}, "text": {"field": "label", "type": "nominal"}}}
      ]
    },
    {
      "width": 600, "height": 445,
      "layer": [
        {"data": {"name": "k4"}, "mark": {"type": "line", "color": "#000000", "strokeWidth": 2.2, "strokeDash": [1.5, 1.2], "interpolate": "monotone"},
         "encoding": {
           "x": {"field": "t", "type": "quantitative", "scale": {"domain": [0, 250], "nice": false}, "axis": {"values": [0, 50, 100, 150, 200, 250], "title": "t, s"}},
           "y": {"field": "v", "type": "quantitative", "scale": {"domain": [-0.25, 0.25], "nice": false}, "axis": {"values": [-0.2, -0.1, 0, 0.1, 0.2], "title": null, "labelExpr": "datum.value == 0 ? '0' : (datum.value < 0 ? '-' + format(-datum.value, '.1f') : format(datum.value, '.1f'))"}}}},
        {"data": {"name": "b4"}, "mark": {"type": "line", "color": "#0000ff", "strokeWidth": 2.8, "strokeDash": [8, 3, 2, 3], "interpolate": "monotone"},
         "encoding": {"x": {"field": "t", "type": "quantitative"}, "y": {"field": "v", "type": "quantitative"}}},
        {"data": {"name": "r4"}, "mark": {"type": "line", "color": "#ff0000", "strokeWidth": 2.8, "strokeDash": [9, 5], "interpolate": "monotone"},
         "encoding": {"x": {"field": "t", "type": "quantitative"}, "y": {"field": "v", "type": "quantitative"}}},
        {"data": {"values": [{"label": "230 M"}]}, "mark": {"type": "text", "align": "right", "baseline": "middle", "font": "Liberation Sans", "fontSize": 25, "fontWeight": "bold", "fontStyle": "italic", "fill": "#000000"},
         "encoding": {"x": {"datum": 40, "type": "quantitative"}, "y": {"datum": 0.213, "type": "quantitative"}, "text": {"field": "label", "type": "nominal"}}}
      ]
    }
  ],
  "config": {
    "view": {"stroke": null},
    "axis": {
      "grid": false,
      "domainColor": "#262626",
      "domainWidth": 1.5,
      "tickColor": "#262626",
      "tickWidth": 1.5,
      "tickSize": -6,
      "labelColor": "#262626",
      "labelFont": "Liberation Sans",
      "labelFontStyle": "italic",
      "labelFontSize": 22,
      "labelFlush": false,
      "labelOverlap": false,
      "titleFont": "Liberation Serif",
      "titleFontSize": 26,
      "titleFontWeight": "normal",
      "titleColor": "#262626"
    },
    "axisX": {"labelPadding": 20, "titlePadding": 12},
    "axisY": {"labelPadding": 16, "titlePadding": 2}
  }
}
